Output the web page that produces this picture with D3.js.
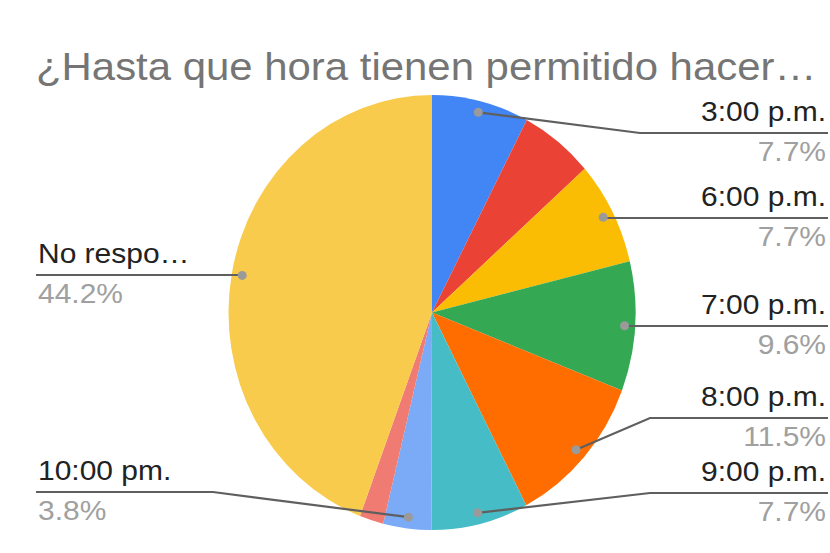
<!DOCTYPE html>
<html><head><meta charset="utf-8">
<script src="https://cdn.jsdelivr.net/npm/d3@7"></script>
<style>
html,body{margin:0;padding:0;background:#fff;}
text{font-family:"Liberation Sans",Arial,sans-serif;}
</style></head>
<body>
<svg id="chart" width="830" height="553"></svg>
<script>
const title = "¿Hasta que hora tienen permitido hacer…";
const categories = ["3:00 p.m.", "5:00 p.m.", "6:00 p.m.", "7:00 p.m.", "8:00 p.m.", "9:00 p.m.", "10:00 pm.", "11:00 p.m.", "No respo…"];
const percents = [7.7, 5.8, 7.7, 9.6, 11.5, 7.7, 3.8, 1.9, 44.2];
const colors = ["#4285F4", "#EA4335", "#FBBC04", "#34A853", "#FF6D01", "#46BDC6", "#7BAAF7", "#F07B72", "#F9CB4C"];
const shownLabels = [true, false, true, true, true, true, true, false, true];

const W = 830, H = 553;
const cx = 432, cy = 312.5, r = 203.5, yScale = 1.069;
const svg = d3.select("#chart");

svg.append("g").attr("transform", "translate(36,80) scale(1.075,1)")
  .append("text").attr("x", 0).attr("y", 0)
  .attr("font-size", 39).attr("fill", "#757575").text(title);

const data = categories.map((c, i) => ({name: c, value: percents[i], color: colors[i], shown: shownLabels[i], i}));
const pie = d3.pie().sort(null).value(d => d.value);
const arcs = pie(data);
const arc = d3.arc().innerRadius(0).outerRadius(r);

const g = svg.append("g").attr("transform", `translate(${cx},${cy}) scale(1,${yScale})`);
g.selectAll("path").data(arcs).join("path")
  .attr("d", arc).attr("fill", d => d.data.color);

// label layout (line y and elbow x) per shown slice
const layout = {
  0: {side: "right", lineY: 133, elbowX: 640},
  2: {side: "right", lineY: 218, elbowX: null},
  3: {side: "right", lineY: 326, elbowX: null},
  4: {side: "right", lineY: 418, elbowX: 650},
  5: {side: "right", lineY: 493, elbowX: 650},
  6: {side: "left", lineY: 492, elbowX: 213},
  8: {side: "left", lineY: 275, elbowX: null}
};
const dotR = r * 0.948;
const fmt = v => v.toFixed(1) + "%";
const sx = 1.11;

arcs.forEach(a => {
  if (!a.data.shown) return;
  const L = layout[a.data.i];
  const mid = (a.startAngle + a.endAngle) / 2;
  const dx = cx + dotR * Math.sin(mid);
  const dy = cy - dotR * Math.cos(mid) * yScale;
  const endX = L.side === "right" ? 828 : 36;
  const pts = [[dx, dy]];
  if (L.elbowX !== null) pts.push([L.elbowX, L.lineY]);
  else pts.push([dx, L.lineY]);
  pts.push([endX, L.lineY]);
  svg.append("path").attr("d", d3.line()(pts))
    .attr("fill", "none").attr("stroke", "#5f5f5f").attr("stroke-width", 2.2);
  svg.append("circle").attr("cx", dx).attr("cy", dy).attr("r", 4.5)
    .attr("fill", "#9a9a9a");
  const tx = L.side === "right" ? 826 : 38;
  const anchor = L.side === "right" ? "end" : "start";
  svg.append("g").attr("transform", `translate(${tx},${L.lineY - 12}) scale(${sx},1)`)
    .append("text").attr("text-anchor", anchor).attr("font-size", 27).attr("fill", "#222")
    .text(a.data.name);
  svg.append("g").attr("transform", `translate(${tx},${L.lineY + 28}) scale(${sx},1)`)
    .append("text").attr("text-anchor", anchor).attr("font-size", 27).attr("fill", "#a0a0a0")
    .text(fmt(a.data.value));
});
</script>
</body></html>
